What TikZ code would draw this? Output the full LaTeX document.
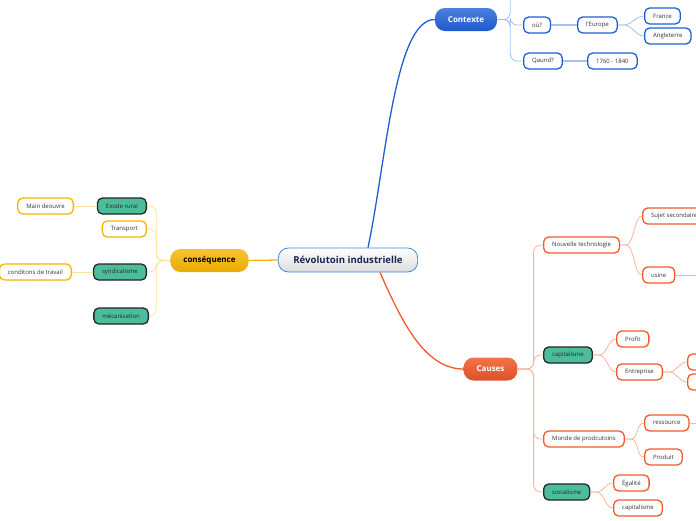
\documentclass[tikz,border=0pt]{standalone}
\usepackage{fontspec}
\setmainfont{Open Sans}
\definecolor{ctxblue}{HTML}{1F5FD6}
\definecolor{ctxline}{HTML}{A3C1F2}
\definecolor{cauorange}{HTML}{F4592C}
\definecolor{cauline}{HTML}{F9B59C}
\definecolor{conyellow}{HTML}{F6B400}
\definecolor{conline}{HTML}{FCE29C}
\definecolor{mapteal}{HTML}{4CBD9B}
\definecolor{rootborder}{HTML}{3B8BD8}
\definecolor{rootnavy}{HTML}{17264D}
\definecolor{txtgray}{HTML}{333333}

\begin{document}
\begin{tikzpicture}[x=1pt, y=-1pt,
    box/.style={draw, rounded corners=5pt, line width=1.3pt, fill=white, text=txtgray,
      font=\fontsize{6}{7}\selectfont, minimum height=16pt, inner xsep=8.5pt, inner ysep=0pt},
    ctxbox/.style={box, draw=ctxblue},
    caubox/.style={box, draw=cauorange},
    conbox/.style={box, draw=conyellow},
    tealbox/.style={box, draw=black!85, fill=mapteal, text=black!85},
    topic/.style={rounded corners=10pt, minimum height=23pt, inner xsep=13pt,
      font=\fontsize{8}{9}\selectfont\bfseries},
    trunk/.style={rounded corners=7pt, line width=0.8pt},
    twig/.style={line width=0.8pt, to path={-- ++(6,0) .. controls +(8,0) and +(-8,0) .. (\tikztotarget)}}]
    \clip (0,0) rectangle (696,520);

    \node[topic, draw=rootborder, line width=0.8pt, top color=white, bottom color=black!14,
      text=rootnavy, inner xsep=15pt, minimum height=24pt, font=\fontsize{9.6}{10}\selectfont\bfseries] (root) at (348,260) {Révolutoin industrielle};
    \node[topic, top color=ctxblue!80, bottom color=ctxblue!95!black, text=white] (ctx) at (466,19.5) {Contexte};
    \node[topic, top color=cauorange!85, bottom color=cauorange!90!black, text=white] (cau) at (490.5,369) {Causes};
    \node[topic, top color=conyellow!80, bottom color=conyellow!95!black, text=black] (con) at (209.5,260.5) {conséquence};

    \draw[ctxblue, line width=1.3pt] ([xshift=20pt]root.north) .. controls +(18,-85) and +(-40,0) .. (ctx.west);
    \draw[cauorange, line width=1.3pt] ([xshift=32pt]root.south) .. controls +(20,45) and +(-40,0) .. (cau.west);
    \draw[conyellow, line width=1.3pt] (root.west) -- (con.east);

    \node[ctxbox, anchor=west] (ou) at (523,25) {où?};
    \node[ctxbox, anchor=west] (europe) at (577,25) {l'Europe};
    \node[ctxbox, anchor=west] (france) at (644,16) {France};
    \node[ctxbox, anchor=west] (angl) at (644,36) {Angleterre};
    \node[ctxbox, anchor=west] (quand) at (523,61) {Qaund?};
    \node[ctxbox, anchor=west] (dates) at (587,61) {1760 - 1840};
    \coordinate (ctxup) at (540,-20);

    \draw[trunk, ctxline] (ctx.east) -- ++(13,0) |- (ctxup);
    \draw[trunk, ctxline] (ctx.east) -- ++(13,0) |- (ou.west);
    \draw[trunk, ctxline] (ctx.east) -- ++(13,0) |- (quand.west);
    \draw[ctxline, line width=1.4pt] (ou.east) -- (europe.west);
    \draw[ctxline, line width=1.4pt] (quand.east) -- (dates.west);
    \draw[ctxline, twig] (europe.east) to (france.west);
    \draw[ctxline, twig] (europe.east) to (angl.west);

    \node[tealbox, anchor=east] (exode) at (147,206) {Exode rural};
    \node[conbox, anchor=east] (main) at (74,206) {Main deouvre};
    \node[conbox, anchor=east] (transp) at (147,229) {Transport};
    \node[tealbox, anchor=east] (synd) at (147,272) {syndicalisme};
    \node[conbox, anchor=east] (condit) at (72,272) {conditons de travail};
    \node[tealbox, anchor=east] (meca) at (149,316) {mécanisation};

    \draw[trunk, conline] (con.west) -- ++(-14,0) |- (exode.east);
    \draw[trunk, conline] (con.west) -- ++(-14,0) |- (transp.east);
    \draw[trunk, conline] (con.west) -- ++(-14,0) |- (synd.east);
    \draw[trunk, conline] (con.west) -- ++(-14,0) |- (meca.east);
    \draw[conline, line width=0.8pt] (exode.west) -- (main.east);
    \draw[conline, line width=0.8pt] (synd.west) -- (condit.east);

    \node[caubox, anchor=west] (techno) at (543,245) {Nouvelle technologie};
    \node[caubox, anchor=west] (sujet) at (642,216) {Sujet secondaire};
    \node[caubox, anchor=west] (usine) at (642,275) {usine};
    \node[tealbox, anchor=west] (capit) at (543,355) {capitalisme};
    \node[caubox, anchor=west] (profit) at (616,339) {Profit};
    \node[caubox, anchor=west] (entr) at (616,372) {Entreprise};
    \node[caubox, anchor=west, minimum width=30pt] (entra) at (687,362) {};
    \node[caubox, anchor=west, minimum width=30pt] (entrb) at (687,382) {};
    \node[caubox, anchor=west] (monde) at (543,439) {Monde de prodcutoins};
    \node[caubox, anchor=west] (ress) at (644,423) {ressource};
    \node[caubox, anchor=west] (produit) at (644,457) {Produit};
    \node[tealbox, anchor=west] (social) at (543,492) {socialisme};
    \node[caubox, anchor=west] (egal) at (613,483) {Égalité};
    \node[caubox, anchor=west] (capitb) at (613,508) {capitalisme};
    \coordinate (usineout) at (710,275);
    \coordinate (ressout) at (715,423);

    \draw[trunk, cauline] (cau.east) -- ++(16,0) |- (techno.west);
    \draw[trunk, cauline] (cau.east) -- ++(16,0) |- (capit.west);
    \draw[trunk, cauline] (cau.east) -- ++(16,0) |- (monde.west);
    \draw[trunk, cauline] (cau.east) -- ++(16,0) |- (social.west);
    \draw[cauline, twig] (techno.east) to (sujet.west);
    \draw[cauline, twig] (techno.east) to (usine.west);
    \draw[cauline, line width=0.8pt] (usine.east) -- (usineout);
    \draw[cauline, twig] (capit.east) to (profit.west);
    \draw[cauline, twig] (capit.east) to (entr.west);
    \draw[cauline, twig] (entr.east) to (entra.west);
    \draw[cauline, twig] (entr.east) to (entrb.west);
    \draw[cauline, twig] (monde.east) to (ress.west);
    \draw[cauline, twig] (monde.east) to (produit.west);
    \draw[cauline, line width=0.8pt] (ress.east) -- (ressout);
    \draw[cauline, twig] (social.east) to (egal.west);
    \draw[cauline, twig] (social.east) to (capitb.west);
\end{tikzpicture}
\end{document}
